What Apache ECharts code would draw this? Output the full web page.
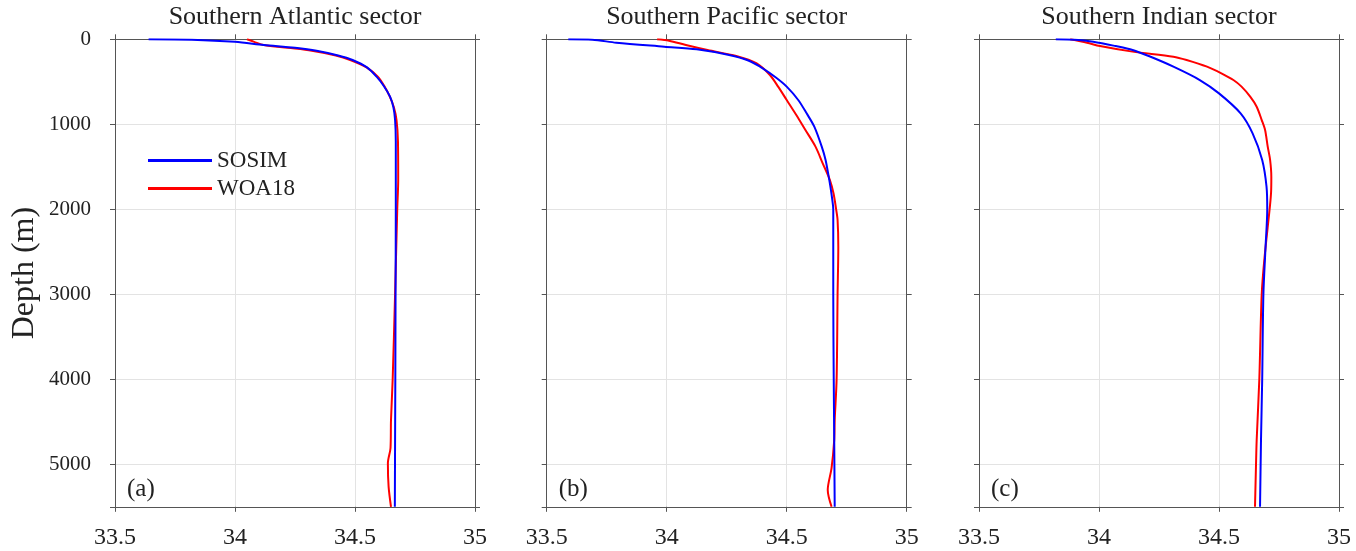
<!DOCTYPE html>
<html>
<head>
<meta charset="utf-8">
<script src="https://cdn.jsdelivr.net/npm/echarts@6/dist/echarts.min.js"></script>
<style>
html,body{margin:0;padding:0;background:#fff;}
#chart{width:1356px;height:551px;}
</style>
</head>
<body>
<div id="chart"></div>
<script>
// ---- data ----
var panelTitles = ['Southern Atlantic sector', 'Southern Pacific sector', 'Southern Indian sector'];
var panelLabels = ['(a)', '(b)', '(c)'];
var seriesNames = ['SOSIM', 'WOA18'];
var xTicks = [33.5, 34, 34.5, 35];
var yTicks = [0, 1000, 2000, 3000, 4000, 5000];

// Atlantic
var atlSosimDepth = [0, 5, 30, 67, 100, 134, 190, 243, 330, 440, 550, 675, 800, 950, 1200, 1655, 2000, 3000, 4000, 4714, 5500];
var atlSosimSal   = [33.64, 33.82, 34.0, 34.12, 34.25, 34.34, 34.43, 34.49, 34.55, 34.59, 34.62, 34.646, 34.66, 34.667, 34.67, 34.67, 34.67, 34.669, 34.668, 34.667, 34.666];
var atlWoaDepth = [0, 30, 67, 100, 134, 190, 243, 330, 440, 550, 675, 800, 950, 1200, 1655, 2000, 3000, 4000, 4479, 4808, 4988, 5263, 5500];
var atlWoaSal   = [34.05, 34.08, 34.12, 34.22, 34.32, 34.42, 34.48, 34.548, 34.595, 34.622, 34.645, 34.662, 34.673, 34.679, 34.68, 34.676, 34.667, 34.657, 34.65, 34.648, 34.637, 34.64, 34.65];

// Pacific
var pacSosimDepth = [0, 5, 40, 87, 118, 185, 250, 341, 450, 557, 714, 871, 1028, 1263, 1420, 1616, 1734, 1890, 2000, 3000, 4000, 4714, 5500];
var pacSosimSal   = [33.59, 33.69, 33.79, 33.99, 34.125, 34.26, 34.34, 34.40, 34.455, 34.50, 34.548, 34.583, 34.615, 34.646, 34.662, 34.675, 34.682, 34.69, 34.694, 34.694, 34.696, 34.698, 34.70];
var pacWoaDepth = [0, 16, 67, 126, 196, 283, 420, 560, 714, 890, 1067, 1263, 1459, 1655, 1812, 2000, 2126, 2440, 3000, 4000, 4479, 4714, 5043, 5302, 5500];
var pacWoaSal   = [33.96, 34.01, 34.08, 34.17, 34.29, 34.375, 34.43, 34.465, 34.50, 34.54, 34.578, 34.62, 34.65, 34.680, 34.695, 34.706, 34.712, 34.715, 34.712, 34.708, 34.70, 34.698, 34.687, 34.671, 34.687];

// Indian
var indSosimDepth = [0, 5, 28, 80, 126, 200, 322, 479, 636, 871, 1106, 1420, 1734, 2000, 2440, 3000, 4000, 4714, 5500];
var indSosimSal   = [33.82, 33.90, 33.976, 34.07, 34.14, 34.21, 34.31, 34.42, 34.50, 34.59, 34.64, 34.68, 34.698, 34.701, 34.694, 34.685, 34.68, 34.675, 34.671];
var indWoaDepth = [0, 40, 79, 145, 204, 243, 322, 400, 479, 557, 675, 793, 950, 1067, 1263, 1420, 1616, 1800, 1969, 2560, 3000, 4000, 4714, 5028, 5500];
var indWoaSal   = [33.88, 33.95, 34.004, 34.14, 34.31, 34.365, 34.45, 34.51, 34.56, 34.594, 34.63, 34.657, 34.678, 34.692, 34.703, 34.713, 34.718, 34.717, 34.712, 34.69, 34.678, 34.668, 34.657, 34.654, 34.65];

var panels = [
  [[atlSosimSal, atlSosimDepth], [atlWoaSal, atlWoaDepth]],
  [[pacSosimSal, pacSosimDepth], [pacWoaSal, pacWoaDepth]],
  [[indSosimSal, indSosimDepth], [indWoaSal, indWoaDepth]]
];
var colors = ['#0000ff', '#ff0000'];

// ---- layout ----
var gridLefts = [115, 546.7, 979];
var gridWidth = 360;
var gridTop = 39.3;
var gridHeight = 467.5;
var FONT = '"Liberation Serif", "Times New Roman", serif';
var frameColor = '#555555';

function pairs(xs, ys) { return xs.map(function (v, i) { return [v, ys[i]]; }); }

var grids = [], xAxes = [], yAxes = [], series = [], graphics = [];
for (var p = 0; p < 3; p++) {
  grids.push({ left: gridLefts[p], top: gridTop, width: gridWidth, height: gridHeight, show: false });
  var xBase = {
    type: 'value', gridIndex: p, min: 33.5, max: 35, interval: 0.5,
    axisLine: { show: true, onZero: false, lineStyle: { color: frameColor, width: 1 } },
    axisTick: { show: true, inside: false, length: 5, lineStyle: { color: frameColor } }
  };
  xAxes.push(Object.assign({}, xBase, {
    position: 'bottom',
    splitLine: { show: true, lineStyle: { color: '#e3e3e3', width: 1 } },
    axisLabel: { show: true, margin: 19, fontFamily: FONT, fontSize: 24, color: '#222',
      formatter: function (v) { return xTicks.indexOf(v) >= 0 ? String(v) : ''; } }
  }));
  xAxes.push(Object.assign({}, xBase, {
    position: 'top', splitLine: { show: false }, axisLabel: { show: false }
  }));
  var yBase = {
    type: 'value', gridIndex: p, min: 0, max: 5500, interval: 1000, inverse: true,
    axisLine: { show: true, onZero: false, lineStyle: { color: frameColor, width: 1 } },
    axisTick: { show: true, inside: false, length: 5, lineStyle: { color: frameColor } }
  };
  yAxes.push(Object.assign({}, yBase, {
    position: 'left',
    name: p === 0 ? 'Depth (m)' : '', nameLocation: 'middle', nameGap: 74, nameRotate: 90,
    nameTextStyle: { fontFamily: FONT, fontSize: 32, color: '#222' },
    splitLine: { show: true, lineStyle: { color: '#e3e3e3', width: 1 } },
    axisLabel: { show: p === 0, margin: 24, fontFamily: FONT, fontSize: 21, color: '#222',
      formatter: function (v) { return yTicks.indexOf(v) >= 0 ? String(v) : ''; } }
  }));
  yAxes.push(Object.assign({}, yBase, {
    position: 'right', splitLine: { show: false }, axisLabel: { show: false }
  }));
  for (var s = 0; s < 2; s++) {
    series.push({
      type: 'line', name: seriesNames[s], xAxisIndex: 2 * p, yAxisIndex: 2 * p,
      data: pairs(panels[p][s][0], panels[p][s][1]),
      showSymbol: false, symbol: 'none', smooth: 0.3, z: s === 0 ? 3 : 2,
      lineStyle: { color: colors[s], width: 2 }, itemStyle: { color: colors[s] },
      animation: false
    });
  }
  graphics.push({
    type: 'text', x: gridLefts[p] + gridWidth / 2, y: 4,
    style: { text: panelTitles[p], font: '26px ' + FONT, fill: '#222', textAlign: 'center' }
  });
  graphics.push({
    type: 'text', x: gridLefts[p] + 12, y: 477,
    style: { text: panelLabels[p], font: '25px ' + FONT, fill: '#222' }
  });
}

var option = {
  animation: false,
  backgroundColor: '#fff',
  grid: grids,
  xAxis: xAxes,
  yAxis: yAxes,
  series: series,
  legend: {
    data: seriesNames, orient: 'vertical', left: 143, top: 144,
    itemWidth: 64, itemHeight: 3, itemGap: 5, icon: 'rect',
    textStyle: { fontFamily: FONT, fontSize: 23, color: '#222', lineHeight: 22 },
    selectedMode: false
  },
  graphic: graphics
};
var chart = echarts.init(document.getElementById('chart'), null, { renderer: 'canvas' });
chart.setOption(option);
</script>
</body>
</html>
